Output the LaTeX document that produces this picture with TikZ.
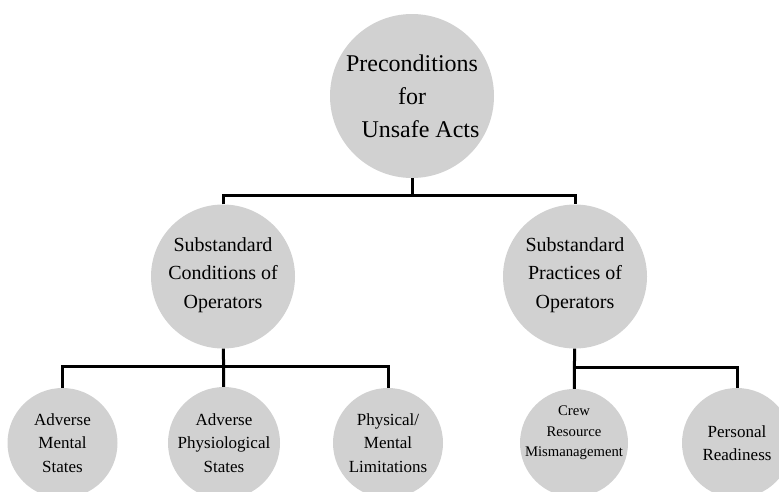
\documentclass[tikz,border=0pt]{standalone}
\usepackage{fontspec}
\setmainfont{Liberation Serif}
\definecolor{bubblegray}{RGB}{209,209,209}
\begin{document}
\begin{tikzpicture}[x=1pt,y=-1pt,
  bubble/.style={circle, fill=bubblegray, draw=none, inner sep=0pt, minimum size=#1},
  caption/.style={align=center, text=black, inner sep=0pt},
  topfont/.style={font=\fontsize{24}{33}\selectfont},
  midfont/.style={font=\fontsize{20}{28.5}\selectfont},
  lowfont/.style={font=\fontsize{17}{23.5}\selectfont},
  smallfont/.style={font=\fontsize{14.7}{20.5}\selectfont},
  link/.style={line width=3pt, line join=miter, draw=black}]
\useasboundingbox (0,0) rectangle (779,491);

% circles
\node[bubble=164] (top) at (412,96) {};
\node[bubble=144] (sc) at (223,276.5) {};
\node[bubble=144] (sp) at (575,276.5) {};
\node[bubble=110] (ams) at (62.5,443) {};
\node[bubble=112] (aps) at (224,443) {};
\node[bubble=110] (pml) at (388,443) {};
\node[bubble=108] (crm) at (574,443) {};
\node[bubble=110] (pr) at (737,443) {};

% bus junctions
\coordinate (b1) at (412,195);
\coordinate (b2) at (223,366);
\coordinate (b3) at (575,367);

% connectors
\draw[link] (top) -- (b1);
\draw[link] (sc) |- (b1) -| (sp);
\draw[link] (sc) -- (aps);
\draw[link] (ams) |- (b2) -| (pml);
\draw[link] (sp) -- (crm);
\draw[link] (b3) -| (pr);

% labels
\node[caption, topfont] (ttop) at (top) {Preconditions\\for\\\hspace*{17pt}Unsafe Acts};
\node[caption, midfont] (tsc) at (223,275) {Substandard\\Conditions of\\Operators};
\node[caption, midfont] (tsp) at (575,275) {Substandard\\Practices of\\Operators};
\node[caption, lowfont] (tams) at (ams) {Adverse\\Mental\\States};
\node[caption, lowfont] (taps) at (aps) {Adverse\\Physiological\\States};
\node[caption, lowfont] (tpml) at (pml) {Physical/\\Mental\\Limitations};
\node[caption, smallfont] (tcrm) at (574,433) {Crew\\Resource\\Mismanagement};
\node[caption, lowfont] (tpr) at (737,443) {Personal\\Readiness};
\end{tikzpicture}
\end{document}
